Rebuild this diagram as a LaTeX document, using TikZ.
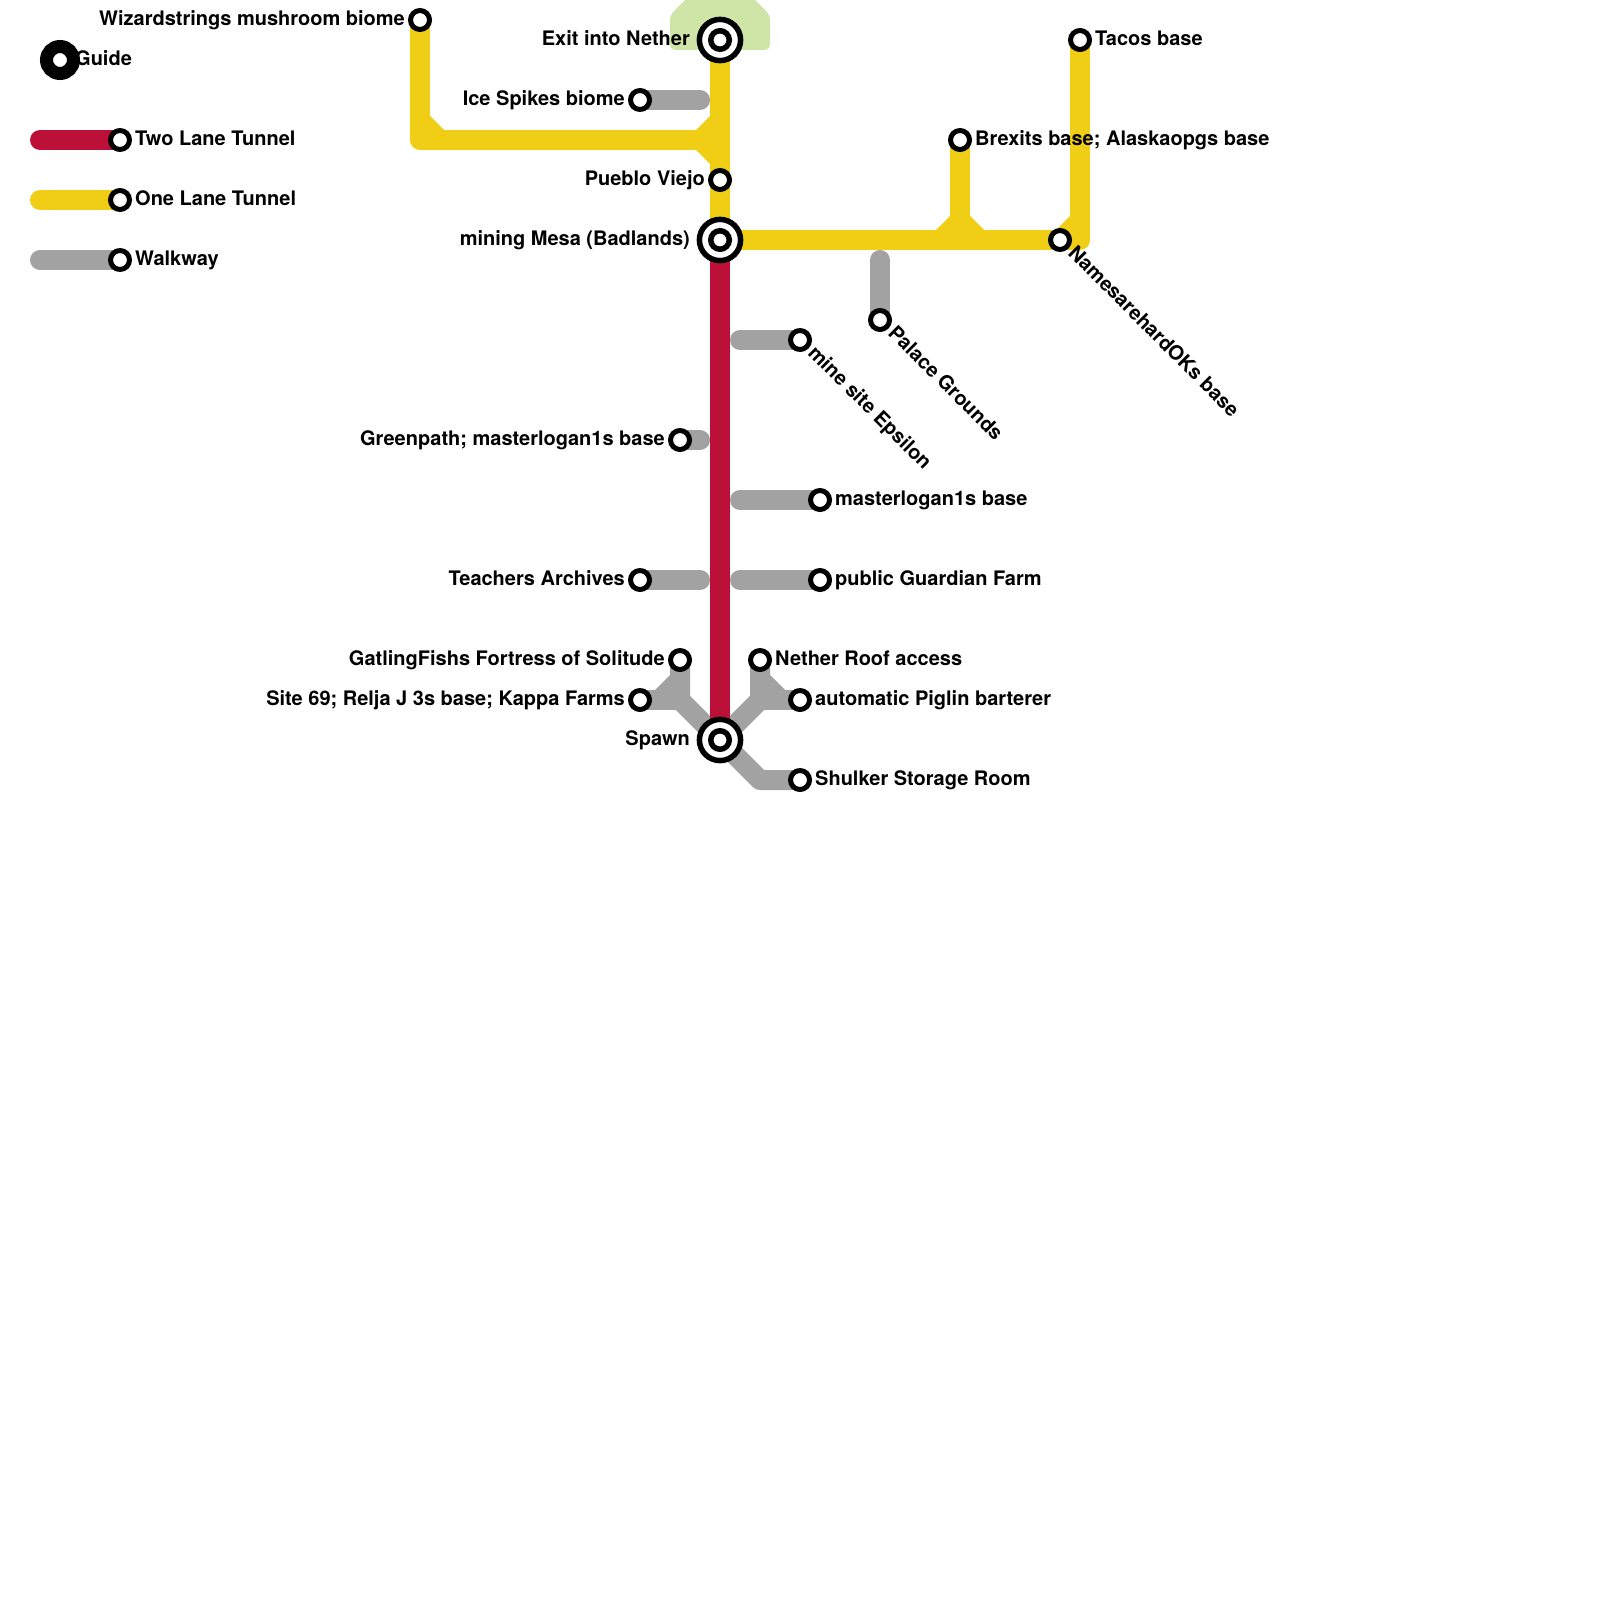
\documentclass[tikz,border=0pt]{standalone}
\usepackage{fontspec}
\setmainfont{TeX Gyre Heros}
\definecolor{twolane}{HTML}{BD1038}
\definecolor{onelane}{HTML}{F0CE15}
\definecolor{walk}{HTML}{A2A2A2}
\definecolor{zone}{HTML}{CFE4A7}
\tikzset{
  tube/.style={line width=20pt,line cap=round,line join=round},
  red line/.style={tube,draw=twolane},
  yellow line/.style={tube,draw=onelane},
  gray line/.style={tube,draw=walk},
  stop/.style={circle,draw=black,fill=white,line width=5pt,minimum size=19pt,inner sep=0pt,outer sep=0pt},
  hub/.style={circle,draw=black,fill=white,line width=5.5pt,minimum size=41.2pt,inner sep=0pt,outer sep=0pt},
  hubcore/.style={circle,draw=black,fill=white,line width=5.5pt,minimum size=18.5pt,inner sep=0pt,outer sep=0pt},
  guidestop/.style={circle,draw=black,fill=white,line width=13pt,minimum size=27pt,inner sep=0pt,outer sep=0pt},
  lab/.style={font=\fontsize{20}{24}\selectfont\bfseries,inner sep=0pt,text=black},
  labr/.style={lab,anchor=base west},
  labl/.style={lab,anchor=base east},
  labd/.style={lab,anchor=base west,rotate=-45}
}
\begin{document}
\begin{tikzpicture}[x=1pt,y=-1pt]
\path[use as bounding box,clip] (0,0) rectangle (1600,1600);
% zone
\fill[zone,rounded corners=5pt] (690,-5) -- (670,15) -- (670,50) -- (770,50) -- (770,15) -- (750,-5) -- cycle;
% positions
\path
  (720,40) coordinate (cExit)
  (720,180) coordinate (cPueblo)
  (720,240) coordinate (cMesa)
  (720,740) coordinate (cSpawn)
  (420,20) coordinate (cWizard)
  (640,100) coordinate (cIce)
  (700,100) coordinate (eIce)
  (420,140) coordinate (j1)
  (720,140) coordinate (j2)
  (960,240) coordinate (j3)
  (1080,240) coordinate (j4)
  (960,140) coordinate (cBrexit)
  (1080,40) coordinate (cTacos)
  (1060,240) coordinate (cNames)
  (880,320) coordinate (cPalace)
  (880,260) coordinate (ePalace)
  (800,340) coordinate (cEps)
  (740,340) coordinate (eEps)
  (680,440) coordinate (cGreen)
  (700,440) coordinate (eGreen)
  (820,500) coordinate (cMaster)
  (740,500) coordinate (eMaster)
  (820,580) coordinate (cFarm)
  (740,580) coordinate (eFarm)
  (640,580) coordinate (cTeach)
  (700,580) coordinate (eTeach)
  (680,660) coordinate (cGat)
  (640,700) coordinate (cSite)
  (680,700) coordinate (j5)
  (760,660) coordinate (cRoof)
  (800,700) coordinate (cPig)
  (760,700) coordinate (j6)
  (800,780) coordinate (cShul)
  (760,780) coordinate (j7)
  (40,140) coordinate (eL1) (120,140) coordinate (cL1)
  (40,200) coordinate (eL2) (120,200) coordinate (cL2)
  (40,260) coordinate (eL3) (120,260) coordinate (cL3);
% walkways
\draw[gray line] (cIce) -- (eIce);
\draw[gray line] (cPalace) -- (ePalace);
\draw[gray line] (cEps) -- (eEps);
\draw[gray line] (cGreen) -- (eGreen);
\draw[gray line] (cMaster) -- (eMaster);
\draw[gray line] (cFarm) -- (eFarm);
\draw[gray line] (cTeach) -- (eTeach);
\draw[gray line] (cSpawn) -- (j5) -- (cGat);
\draw[gray line] (j5) -- (cSite);
\draw[gray line] (cSpawn) -- (j6) -- (cRoof);
\draw[gray line] (j6) -- (cPig);
\draw[gray line] (cSpawn) -- (j7) -- (cShul);
\fill[walk] (670,675) -- (655,690) -- (670,690) -- cycle;
\fill[walk] (770,675) -- (785,690) -- (770,690) -- cycle;
% yellow
\draw[yellow line] (cWizard) -- (j1) -- (j2);
\draw[yellow line] (cExit) -- (cMesa);
\draw[yellow line] (cMesa) -- (cNames) -- (j4) -- (cTacos);
\draw[yellow line] (cBrexit) -- (j3);
\fill[onelane] (430,116) -- (444,130) -- (430,130) -- cycle;
\fill[onelane] (710,116) -- (696,130) -- (710,130) -- cycle;
\fill[onelane] (710,164) -- (696,150) -- (710,150) -- cycle;
\fill[onelane] (950,216) -- (936,230) -- (950,230) -- cycle;
\fill[onelane] (970,216) -- (984,230) -- (970,230) -- cycle;
\fill[onelane] (1070,216) -- (1056,230) -- (1070,230) -- cycle;
% red
\draw[red line,line cap=butt] (cMesa) -- (cSpawn);
% legend lines
\draw[red line] (eL1) -- (cL1);
\draw[yellow line] (eL2) -- (cL2);
\draw[gray line] (eL3) -- (cL3);
% stations
\node[guidestop] (guide) at (60,60) {};
\node[stop] (L1) at (cL1) {};
\node[stop] (L2) at (cL2) {};
\node[stop] (L3) at (cL3) {};
\node[hub] (exit) at (cExit) {}; \node[hubcore] (exitc) at (cExit) {};
\node[hub] (mesa) at (cMesa) {}; \node[hubcore] (mesac) at (cMesa) {};
\node[hub] (spawn) at (cSpawn) {}; \node[hubcore] (spawnc) at (cSpawn) {};
\node[stop] (pueblo) at (cPueblo) {};
\node[stop] (wizard) at (cWizard) {};
\node[stop] (ice) at (cIce) {};
\node[stop] (brexit) at (cBrexit) {};
\node[stop] (tacos) at (cTacos) {};
\node[stop] (names) at (cNames) {};
\node[stop] (palace) at (cPalace) {};
\node[stop] (eps) at (cEps) {};
\node[stop] (green) at (cGreen) {};
\node[stop] (master) at (cMaster) {};
\node[stop] (farm) at (cFarm) {};
\node[stop] (teach) at (cTeach) {};
\node[stop] (gat) at (cGat) {};
\node[stop] (site) at (cSite) {};
\node[stop] (roof) at (cRoof) {};
\node[stop] (pig) at (cPig) {};
\node[stop] (shul) at (cShul) {};
% labels
\node[labr] (tGuide) at (75,66) {Guide};
\node[labr] (tL1) at (135,146) {Two Lane Tunnel};
\node[labr] (tL2) at (135,205) {One Lane Tunnel};
\node[labr] (tL3) at (135,265) {Walkway};
\node[labl] (tWizard) at (405,26) {Wizardstrings mushroom biome};
\node[labl] (tExit) at (690,46) {Exit into Nether};
\node[labl] (tIce) at (625,106) {Ice Spikes biome};
\node[labl] (tPueblo) at (705,185) {Pueblo Viejo};
\node[labl] (tMesa) at (690,245) {mining Mesa (Badlands)};
\node[labl] (tGreen) at (665,445) {Greenpath; masterlogan1s base};
\node[labl] (tTeach) at (625,585) {Teachers Archives};
\node[labl] (tGat) at (665,665) {GatlingFishs Fortress of Solitude};
\node[labl] (tSite) at (625,705) {Site 69; Relja J 3s base; Kappa Farms};
\node[labl] (tSpawn) at (690,745) {Spawn};
\node[labr] (tTacos) at (1095,46) {Tacos base};
\node[labr] (tBrexit) at (975,146) {Brexits base; Alaskaopgs base};
\node[labr] (tMaster) at (835,505) {masterlogan1s base};
\node[labr] (tFarm) at (835,585) {public Guardian Farm};
\node[labr] (tRoof) at (775,665) {Nether Roof access};
\node[labr] (tPig) at (815,705) {automatic Piglin barterer};
\node[labr] (tShul) at (815,785) {Shulker Storage Room};
\node[labd] (tNames) at (1067,254) {NamesarehardOKs base};
\node[labd] (tPalace) at (887,334) {Palace Grounds};
\node[labd] (tEps) at (807,354) {mine site Epsilon};
\end{tikzpicture}
\end{document}
